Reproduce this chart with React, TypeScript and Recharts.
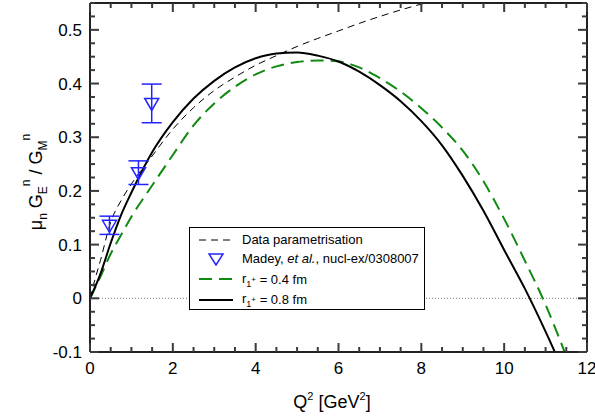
import React from 'react'
import {
  ComposedChart,
  Line,
  Scatter,
  ErrorBar,
  XAxis,
  YAxis,
  ReferenceLine,
} from 'recharts'

// Q^2 grid in GeV^2
const paramQ = [0, 0.12, 0.25, 0.5, 0.75, 1, 1.5, 2, 2.5, 3, 3.5, 4, 4.5, 5, 5.5, 6, 6.5, 7, 7.5, 8, 8.5, 9]
const paramValues = [0, 0.035, 0.07, 0.142, 0.182, 0.213, 0.265, 0.315, 0.355, 0.387, 0.412, 0.434, 0.452, 0.469, 0.484, 0.498, 0.512, 0.525, 0.537, 0.548, 0.558, 0.568]

const modelQ = [0, 0.25, 0.5, 0.75, 1, 1.5, 2, 2.5, 3, 3.5, 4, 4.5, 5, 5.5, 6, 6.5, 7, 7.5, 8, 8.5, 9, 9.5, 10, 10.5, 11, 11.5]
const r04Values = [0, 0.04, 0.083, 0.118, 0.152, 0.21, 0.267, 0.322, 0.363, 0.394, 0.417, 0.432, 0.44, 0.443, 0.441, 0.43, 0.41, 0.385, 0.354, 0.318, 0.275, 0.218, 0.148, 0.07, -0.012, -0.108]
const r08Values = [0, 0.045, 0.103, 0.155, 0.197, 0.272, 0.328, 0.372, 0.405, 0.43, 0.447, 0.456, 0.458, 0.452, 0.441, 0.422, 0.397, 0.367, 0.33, 0.285, 0.228, 0.163, 0.09, 0.018, -0.062, -0.148]

// Madey et al., nucl-ex/0308007
const madeyQ = [0.47, 1.17, 1.49]
const madeyRatio = [0.136, 0.234, 0.363]
const madeyErrLow = [0.017, 0.022, 0.036]
const madeyErrHigh = [0.017, 0.022, 0.036]

const xTicks = [0, 0.5, 1, 1.5, 2, 2.5, 3, 3.5, 4, 4.5, 5, 5.5, 6, 6.5, 7, 7.5, 8, 8.5, 9, 9.5, 10, 10.5, 11, 11.5, 12]
const yTicks = [
  -0.1, -0.075, -0.05, -0.025, 0, 0.025, 0.05, 0.075, 0.1, 0.125, 0.15, 0.175, 0.2, 0.225,
  0.25, 0.275, 0.3, 0.325, 0.35, 0.375, 0.4, 0.425, 0.45, 0.475, 0.5, 0.525, 0.55,
]

const paramData = paramQ.map((q, i) => ({ q, v: paramValues[i] }))
const r04Data = modelQ.map((q, i) => ({ q, v: r04Values[i] }))
const r08Data = modelQ.map((q, i) => ({ q, v: r08Values[i] }))
const madeyData = madeyQ.map((q, i) => ({ q, v: madeyRatio[i], err: [madeyErrLow[i], madeyErrHigh[i]] }))

const FONT = '"Liberation Sans", Arial, Helvetica, sans-serif'
const AXIS = '#222'
const TICK = '#3a3a3a'
const BLUE = '#2323ff'
const GREEN = '#108a10'

const isMajorX = (v: number) => Math.abs(v / 2 - Math.round(v / 2)) < 1e-6
const isMajorY = (v: number) => Math.abs(v * 10 - Math.round(v * 10)) < 1e-6

const BottomTick = (props: any) => {
  const { x, y, payload } = props
  const major = isMajorX(payload.value)
  return (
    <g>
      <line x1={x} x2={x} y1={y} y2={y - (major ? 9 : 5)} stroke={TICK} strokeWidth={2} />
      {major && (
        <text x={x} y={y + 22} textAnchor="middle" fontSize={17} fill="#000" fontFamily={FONT}>
          {payload.value}
        </text>
      )}
    </g>
  )
}

const TopTick = (props: any) => {
  const { x, y, payload } = props
  const major = isMajorX(payload.value)
  return (
    <g>
      <line x1={x} x2={x} y1={y} y2={y + (major ? 9 : 5)} stroke={TICK} strokeWidth={2} />
    </g>
  )
}

const LeftTick = (props: any) => {
  const { x, y, payload } = props
  const v = payload.value
  const major = isMajorY(v)
  return (
    <g>
      <line x1={x} x2={x + (major ? 9 : 5)} y1={y} y2={y} stroke={TICK} strokeWidth={2} />
      {major && (
        <text x={x - 8} y={y + 6} textAnchor="end" fontSize={17} fill="#000" fontFamily={FONT}>
          {Math.abs(v) < 1e-9 ? '0' : v.toFixed(1)}
        </text>
      )}
    </g>
  )
}

const RightTick = (props: any) => {
  const { x, y, payload } = props
  const major = isMajorY(payload.value)
  return (
    <g>
      <line x1={x} x2={x - (major ? 9 : 5)} y1={y} y2={y} stroke={TICK} strokeWidth={2} />
    </g>
  )
}

const TriangleDown = (props: any) => {
  const { cx, cy } = props
  return (
    <polygon
      points={`${cx - 7},${cy - 5} ${cx + 7},${cy - 5} ${cx},${cy + 7}`}
      fill="none"
      stroke={BLUE}
      strokeWidth={1.5}
    />
  )
}

// axis titles, laid over the chart
const Titles = () => (
  <svg width={595} height={418} style={{ position: 'absolute', left: 0, top: 0, pointerEvents: 'none' }}>
    <text transform="translate(42,182) rotate(-90)" textAnchor="middle" fontSize={18} fill="#000" fontFamily={FONT}>
      <tspan>μ</tspan>
      <tspan fontSize={12} dy={5}>n</tspan>
      <tspan dy={-5}> G</tspan>
      <tspan fontSize={12} dy={5}>E</tspan>
      <tspan fontSize={12} dy={-17}>n</tspan>
      <tspan dy={12}> / G</tspan>
      <tspan fontSize={12} dy={5}>M</tspan>
      <tspan fontSize={12} dy={-17}>n</tspan>
    </text>
    <text x={332} y={408} textAnchor="middle" fontSize={18} fill="#000" fontFamily={FONT}>
      <tspan>Q</tspan>
      <tspan fontSize={11} dy={-8}>2</tspan>
      <tspan dy={8}> [GeV</tspan>
      <tspan fontSize={11} dy={-8}>2</tspan>
      <tspan dy={8}>]</tspan>
    </text>
  </svg>
)

const Sub1Plus = () => (
  <span>
    r
    <span style={{ fontSize: 9, position: 'relative', top: 4 }}>1</span>
    <span style={{ fontSize: 8, position: 'relative', top: -1 }}>+</span>
  </span>
)

const LegendBox = () => {
  const row: React.CSSProperties = { display: 'flex', alignItems: 'center', height: 19 }
  const sample: React.CSSProperties = { width: 52, display: 'flex', justifyContent: 'center' }
  return (
    <div
      style={{
        position: 'absolute',
        left: 189,
        top: 227,
        border: '1.5px solid #000',
        background: '#fff',
        width: 236,
        height: 83,
        boxSizing: 'border-box',
        padding: '2px 0 0 0',
        fontFamily: FONT,
        fontSize: 13,
        color: '#000',
        textAlign: 'left',
        lineHeight: '15px',
      }}
    >
      <div style={row}>
        <div style={sample}>
          <svg width={34} height={6}>
            <line x1={0} x2={34} y1={3} y2={3} stroke="#000" strokeWidth={1} strokeDasharray="7 5" />
          </svg>
        </div>
        <span>Data parametrisation</span>
      </div>
      <div style={row}>
        <div style={sample}>
          <svg width={16} height={14}>
            <polygon points="1,2 15,2 8,13" fill="none" stroke={BLUE} strokeWidth={1.5} />
          </svg>
        </div>
        <span>
          Madey, <i>et al.</i>, nucl-ex/0308007
        </span>
      </div>
      <div style={{ ...row, height: 22 }}>
        <div style={sample}>
          <svg width={34} height={6}>
            <line x1={0} x2={34} y1={3} y2={3} stroke={GREEN} strokeWidth={2} strokeDasharray="13 7" />
          </svg>
        </div>
        <Sub1Plus />
        <span>&nbsp;= 0.4 fm</span>
      </div>
      <div style={row}>
        <div style={sample}>
          <svg width={34} height={6}>
            <line x1={0} x2={34} y1={3} y2={3} stroke="#000" strokeWidth={2} />
          </svg>
        </div>
        <Sub1Plus />
        <span>&nbsp;= 0.8 fm</span>
      </div>
    </div>
  )
}

export default function App() {
  return (
    <div style={{ position: 'absolute', left: 0, top: 0, width: 595, height: 418, background: '#fff', fontFamily: FONT }}>
      <ComposedChart width={595} height={418} margin={{ top: 2, right: 7, bottom: 0, left: 0 }}>
        <XAxis
          dataKey="q"
          type="number"
          domain={[0, 12]}
          ticks={xTicks}
          interval={0}
          height={66}
          tickSize={0}
          tickMargin={0}
          tickLine={false}
          tick={<BottomTick />}
          axisLine={{ stroke: AXIS, strokeWidth: 2 }}
          allowDataOverflow
        />
        <XAxis
          xAxisId="top"
          dataKey="q"
          type="number"
          orientation="top"
          domain={[0, 12]}
          ticks={xTicks}
          interval={0}
          height={1}
          tickSize={0}
          tickMargin={0}
          tickLine={false}
          tick={<TopTick />}
          axisLine={{ stroke: AXIS, strokeWidth: 2 }}
          allowDataOverflow
        />
        <YAxis
          type="number"
          domain={[-0.1, 0.55]}
          ticks={yTicks}
          interval={0}
          width={90}
          tickSize={0}
          tickMargin={0}
          tickLine={false}
          tick={<LeftTick />}
          axisLine={{ stroke: AXIS, strokeWidth: 2 }}
          allowDataOverflow
        />
        <YAxis
          yAxisId="right"
          orientation="right"
          type="number"
          domain={[-0.1, 0.55]}
          ticks={yTicks}
          interval={0}
          width={1}
          tickSize={0}
          tickMargin={0}
          tickLine={false}
          tick={<RightTick />}
          axisLine={{ stroke: AXIS, strokeWidth: 2 }}
          allowDataOverflow
        />
        <ReferenceLine y={0} stroke="#777" strokeWidth={1} strokeDasharray="1 2" />
        <Line
          data={paramData}
          dataKey="v"
          type="monotone"
          stroke="#000"
          strokeWidth={1}
          strokeDasharray="7 5"
          dot={false}
          isAnimationActive={false}
        />
        <Line
          data={r04Data}
          dataKey="v"
          type="monotone"
          stroke={GREEN}
          strokeWidth={2}
          strokeDasharray="13 7"
          dot={false}
          isAnimationActive={false}
        />
        <Line
          data={r08Data}
          dataKey="v"
          type="monotone"
          stroke="#000"
          strokeWidth={2}
          dot={false}
          isAnimationActive={false}
        />
        <Scatter data={madeyData} dataKey="v" shape={<TriangleDown />} isAnimationActive={false}>
          <ErrorBar dataKey="err" direction="y" width={10} stroke={BLUE} strokeWidth={1.5} />
        </Scatter>
      </ComposedChart>
      <LegendBox />
      <Titles />
    </div>
  )
}
